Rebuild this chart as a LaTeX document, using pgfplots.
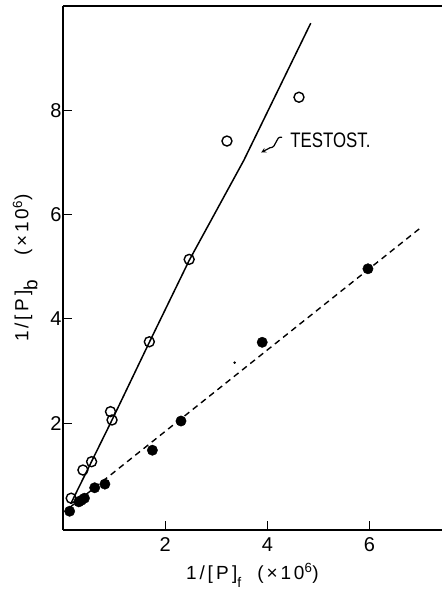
\documentclass[border=0pt]{standalone}
\usepackage{fontspec}
\setmainfont{Liberation Sans}
\usepackage{pgfplots}
\pgfplotsset{compat=1.18}

\begin{document}
\begin{tikzpicture}
\path[use as bounding box] (0,0) rectangle (442pt,589pt);
\begin{axis}[
    at={(63pt,59pt)}, anchor=south west,
    scale only axis,
    width=379pt, height=524pt,
    xmin=0, xmax=7.42,
    ymin=-0.05, ymax=10,
    axis x line=box, axis y line=left,
    axis line style={-, line width=1.4pt},
    xtick={2,4,6}, ytick={2,4,6,8},
    xtick pos=bottom, ytick pos=left,
    tick align=inside, major tick length=9pt,
    tick style={line width=1.2pt, black},
    /pgf/number format/assume math mode=true,
    ticklabel style={font=\fontsize{20}{24}\selectfont},
    yticklabel style={xshift=2pt},
    xticklabel style={yshift=-4pt},
    xlabel={1/[\,P\,]\raisebox{-8pt}{\fontsize{14}{16}\selectfont f}\ \ (×10\textsuperscript{6})},
    ylabel={1/[\,P\,]\raisebox{-9pt}{b}\ \ \ (×10\textsuperscript{6})},
    label style={font=\fontsize{19}{22}\selectfont\addfontfeature{LetterSpace=15}},
    xlabel style={at={(axis description cs:0.5,0)}, anchor=base, yshift=-49pt},
    ylabel style={at={(axis description cs:-0.1,0.5)}, anchor=center},
    clip=false
]

% open circles (testosterone)
\addplot[only marks, mark=o, mark size=5pt, mark options={line width=1.4pt}, black]
coordinates {(0.16,0.56) (0.39,1.10) (0.56,1.26) (0.93,2.22) (0.96,2.06)
             (1.69,3.56) (2.47,5.14) (3.21,7.41) (4.62,8.25)};

% solid fitted line
\addplot[line width=1.5pt, black] coordinates {
    (0.15,0.45) (0.97,2.08) (1.70,3.57) (2.47,5.12) (3.54,7.04) (4.85,9.67)};

% filled circles
\addplot[only marks, mark=*, mark size=5.2pt, black]
coordinates {(0.13,0.31) (0.31,0.49) (0.36,0.52) (0.42,0.56) (0.62,0.76)
             (0.82,0.83) (1.75,1.48) (2.31,2.04) (3.90,3.55) (5.97,4.96)};

% dashed fitted line
\addplot[line width=1.4pt, black, dash pattern=on 6pt off 4.5pt] coordinates {
    (0.13,0.38) (6.98,5.73)};

% stray speck
\addplot[only marks, mark=*, mark size=1pt, black] coordinates {(3.36,3.16)};

\node[font=\fontsize{21}{24}\selectfont, xscale=0.8, anchor=west, inner sep=0pt]
    at (axis cs:4.45,7.42) {TESTOST.};
\draw[line width=1.2pt, -{stealth}] (axis cs:4.29,7.48)
    .. controls (axis cs:4.15,7.52) and (axis cs:4.2,7.28) .. (axis cs:4.05,7.28)
    -- (axis cs:3.88,7.19);

\end{axis}
\end{tikzpicture}
\end{document}
